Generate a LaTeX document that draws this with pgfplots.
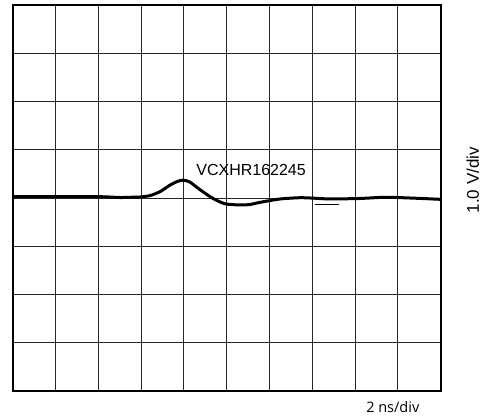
\documentclass[border=0pt]{standalone}
\usepackage{pgfplots}
\pgfplotsset{compat=1.18}
\usepackage{fontspec}
\setmainfont{Liberation Sans}
\newfontfamily\segoe{Open Sans}
\begin{document}
\begin{tikzpicture}
\useasboundingbox (-12.7pt,-26pt) rectangle (475.3pt,391pt);
\begin{axis}[
  at={(0pt,0pt)}, anchor=south west,
  scale only axis, width=428pt, height=386pt,
  xmin=0, xmax=10, ymin=-4, ymax=4,
  xtick={0,1,...,10}, ytick={-4,-3,...,4},
  xticklabels={}, yticklabels={},
  major tick length=0pt,
  grid=major,
  major grid style={black!85, line width=0.9pt},
  axis line style={line width=2.2pt, black},
  clip=false,
]
\addplot[black, line width=3pt, smooth, tension=0.4] coordinates {
(0,0.027) (1,0.027) (2.04,0.027) (2.51,0.01) (2.74,0.015) (2.97,0.02)
(3.21,0.05) (3.44,0.13) (3.68,0.27) (3.84,0.34) (3.98,0.37) (4.14,0.33)
(4.38,0.17) (4.68,-0.01) (4.96,-0.12) (5.31,-0.145) (5.54,-0.135)
(5.78,-0.09) (6.25,-0.02) (6.71,0.006) (6.95,0) (7.41,-0.02) (8.11,-0.01)
(8.70,0.015) (9.28,0) (9.98,-0.027)
};
\addplot[black, line width=1.6pt] coordinates {(7.06,-0.135) (7.62,-0.135)};
\node[font=\fontsize{16}{18}\selectfont, anchor=center] at (axis cs:5.57,0.58) {VCXHR162245};
\node[font=\fontsize{17}{19}\selectfont, rotate=90, anchor=center] at (axis cs:10.75,0.37) {1.0 V/div};
\node[font=\segoe\fontsize{14.5}{16}\selectfont, anchor=center] at (axis cs:8.88,-4.33) {2 ns/div};
\end{axis}
\end{tikzpicture}
\end{document}
